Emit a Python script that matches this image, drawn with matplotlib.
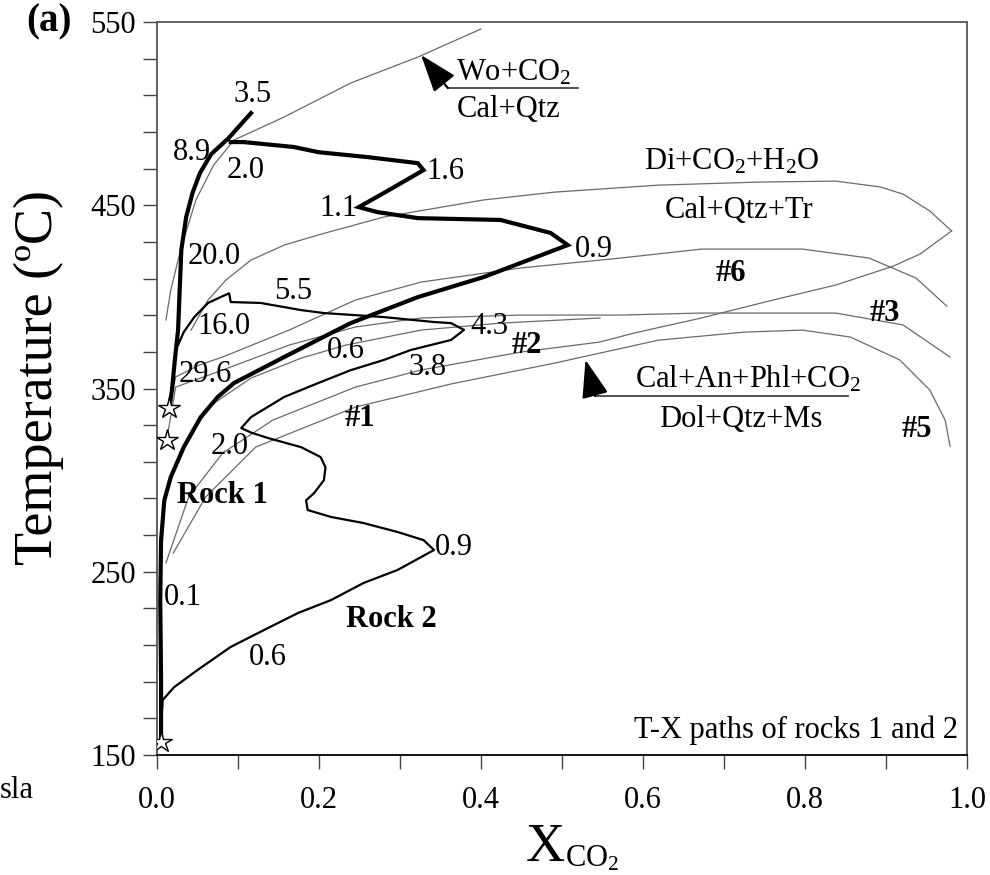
import numpy as np
import matplotlib
matplotlib.use("Agg")
import matplotlib.pyplot as plt
from matplotlib.ticker import FixedLocator

plt.rcParams["font.family"] = ["Liberation Serif", "DejaVu Serif"]
plt.rcParams["mathtext.fontset"] = "custom"
plt.rcParams["mathtext.rm"] = "Liberation Serif"
plt.rcParams["mathtext.it"] = "Liberation Serif:italic"
plt.rcParams["mathtext.bf"] = "Liberation Serif:bold"

# ---------- 1) T-X paths (x = X_CO2, t = temperature in C) ----------
# rock 1, branch from the upper start point up to the 3.5 end
rock1a_x = [0.015, 0.0185, 0.022, 0.026, 0.028, 0.030, 0.036, 0.044, 0.053, 0.067, 0.088, 0.116]
rock1a_t = [339.4, 349.2, 365.6, 381.9, 403.8, 425.6, 443.6, 457.0, 467.6, 478.0, 486.5, 500.3]

# rock 1, main loop from the bottom start point
rock1b_x = [0.005, 0.005, 0.004, 0.005, 0.009, 0.017, 0.033, 0.054, 0.075, 0.095, 0.157,
            0.239, 0.322, 0.403, 0.507, 0.486, 0.424, 0.322, 0.272, 0.249, 0.280, 0.329,
            0.322, 0.260, 0.199, 0.169, 0.107, 0.091]
rock1b_t = [157.0, 191.0, 234.6, 267.0, 289.0, 301.7, 318.0, 334.4, 345.4, 353.0, 367.2,
            385.7, 399.9, 410.8, 428.3, 434.9, 442.0, 443.0, 446.3, 449.0, 456.7, 469.2,
            473.0, 476.3, 479.0, 481.8, 484.5, 484.5]

# rock 2
rock2_x = [0.005, 0.007, 0.021, 0.050, 0.091, 0.132, 0.174, 0.215, 0.255, 0.297, 0.342,
           0.329, 0.297, 0.255, 0.215, 0.186, 0.184, 0.194, 0.206, 0.208, 0.202, 0.178,
           0.137, 0.116, 0.104, 0.116, 0.157, 0.199, 0.239, 0.280, 0.313, 0.363, 0.379,
           0.363, 0.342, 0.280, 0.206, 0.178, 0.128, 0.091, 0.089, 0.079, 0.063, 0.046,
           0.033, 0.026]
rock2_t = [166.4, 180.0, 187.0, 196.4, 209.0, 218.2, 227.5, 234.6, 243.9, 251.0, 261.9,
           267.3, 271.7, 276.6, 279.9, 283.7, 289.0, 293.0, 300.0, 307.0, 312.6, 318.0,
           323.0, 326.0, 328.4, 334.4, 345.4, 353.0, 360.0, 365.6, 371.0, 376.5, 382.0,
           385.7, 386.3, 389.0, 391.2, 392.8, 396.7, 397.2, 402.0, 400.0, 396.7, 389.0,
           380.8, 373.7]

star_x = [0.015, 0.012, 0.005]
star_t = [339.4, 321.9, 157.0]

# ---------- 2) Reaction curves ----------
wo_x = [0.011, 0.017, 0.030, 0.048, 0.070, 0.095, 0.157, 0.239, 0.322, 0.400]
wo_t = [387.4, 403.8, 427.2, 452.9, 472.0, 485.6, 498.2, 516.7, 530.9, 546.2]

di_x = [0.042, 0.063, 0.085, 0.116, 0.157, 0.199, 0.280, 0.403, 0.491, 0.619, 0.746,
        0.838, 0.893, 0.921, 0.954, 0.981]
di_t = [381.9, 398.3, 409.2, 420.1, 428.3, 433.8, 443.6, 452.9, 457.2, 461.0, 462.7,
        463.2, 460.0, 456.1, 446.9, 436.0]

c6_x = [0.017, 0.023, 0.052, 0.081, 0.163, 0.245, 0.326, 0.449, 0.572, 0.672, 0.797,
        0.879, 0.937, 0.975]
c6_t = [343.7, 356.3, 362.8, 367.2, 381.9, 398.3, 408.1, 415.8, 421.2, 426.1, 426.1,
        421.2, 410.3, 395.0]

c3_x = [0.012, 0.023, 0.081, 0.163, 0.245, 0.326, 0.449, 0.572, 0.672, 0.838, 0.921, 0.979]
c3_t = [321.9, 350.8, 360.1, 373.7, 383.6, 388.5, 390.1, 390.1, 391.2, 391.2, 384.7, 367.2]

c2_x = [0.011, 0.039, 0.081, 0.143, 0.245, 0.326, 0.449, 0.547, 0.589, 0.672, 0.755,
        0.838, 0.909, 0.942, 0.981]
c2_t = [254.8, 290.8, 314.8, 332.8, 350.8, 360.1, 369.9, 375.4, 380.3, 388.5, 397.7,
        406.5, 416.8, 423.4, 436.0]

c5_x = [0.020, 0.060, 0.122, 0.245, 0.363, 0.491, 0.619, 0.725, 0.797, 0.856, 0.917,
        0.954, 0.973, 0.979]
c5_t = [260.2, 290.8, 318.1, 339.9, 352.5, 363.9, 376.4, 380.8, 381.9, 378.1, 365.6,
        349.2, 332.8, 318.6]

c1_x = [0.036, 0.067, 0.116, 0.178, 0.233, 0.326, 0.424, 0.547]
c1_t = [321.9, 341.0, 355.7, 366.6, 373.7, 381.9, 385.7, 388.5]

# ---------- 3) Labels ----------
num_labels = [
    ("3.5", 0.118, 510.2), ("8.9", 0.043, 479.0), ("2.0", 0.110, 469.2),
    ("1.6", 0.356, 468.7), ("1.1", 0.224, 448.5), ("20.0", 0.070, 421.8),
    ("0.9", 0.539, 426.1), ("5.5", 0.168, 402.7), ("16.0", 0.083, 383.6),
    ("4.3", 0.410, 383.6), ("0.6", 0.233, 370.5), ("29.6", 0.059, 357.4),
    ("3.8", 0.334, 361.7), ("2.0", 0.090, 318.6), ("0.9", 0.367, 263.5),
    ("0.1", 0.032, 235.7), ("0.6", 0.137, 203.5),
]
bold_labels = [
    ("Rock 1", 0.081, 291.9), ("Rock 2", 0.289, 223.7), ("#1", 0.250, 333.9),
    ("#2", 0.457, 373.7), ("#6", 0.708, 413.0), ("#3", 0.899, 390.7),
    ("#5", 0.938, 327.4),
]
rxn_labels = [
    ("Wo+CO$_2$", 0.441, 518.3), ("Cal+Qtz", 0.434, 498.0),
    ("Di+CO$_2$+H$_2$O", 0.710, 469.8), ("Cal+Qtz+Tr", 0.718, 443.3),
    ("Cal+An+Phl+CO$_2$", 0.730, 350.8), ("Dol+Qtz+Ms", 0.721, 329.0),
]

thin_col = "#6a6a6a"
fs = 22

fig = plt.figure(figsize=(9.9, 8.75), dpi=100)
ax = fig.add_axes([0.1586, 0.1371, 0.8182, 0.8377])

for xs, ts in [(wo_x, wo_t), (di_x, di_t), (c6_x, c6_t), (c3_x, c3_t),
               (c2_x, c2_t), (c5_x, c5_t), (c1_x, c1_t)]:
    ax.plot(xs, ts, color=thin_col, lw=0.9, zorder=2)

ax.plot(rock2_x, rock2_t, color="black", lw=1.6, zorder=3)
ax.plot(rock1b_x, rock1b_t, color="black", lw=3.0, zorder=4, solid_joinstyle="miter")
ax.plot(rock1a_x, rock1a_t, color="black", lw=3.0, zorder=4)
ax.plot(star_x, star_t, ls="none", marker="*", ms=16, mfc="white", mec="black",
        mew=1.0, zorder=5)

# arrows + fraction bars of the reaction labels
for tip, corner, bar_end in [((0.326, 532.0), (0.359, 514.0), 0.520),
                             ((0.529, 365.6), (0.541, 345.9), 0.853)]:
    ax.annotate("", xy=tip, xytext=corner,
                arrowprops=dict(arrowstyle="-|>,head_length=0.9,head_width=0.32",
                                color="black", lw=1.6, mutation_scale=26,
                                shrinkA=0, shrinkB=0))
    ax.plot([corner[0], bar_end], [corner[1], corner[1]], color="#333333", lw=1.2)

for s, x, t in num_labels:
    ax.text(x, t, s, fontsize=fs, ha="center", va="center", zorder=6)
for s, x, t in bold_labels:
    ax.text(x, t, s, fontsize=fs, fontweight="bold", ha="center", va="center", zorder=6)
for s, x, t in rxn_labels:
    ax.text(x, t, s, fontsize=fs, ha="center", va="baseline", zorder=6)

ax.text(0.989, 163.6, "T-X paths of rocks 1 and 2", fontsize=fs, ha="right", va="center")

# ---------- 4) Axes ----------
ax.set_xlim(0, 1.0)
ax.set_ylim(150, 550)
ax.xaxis.set_major_locator(FixedLocator(np.arange(0, 1.01, 0.2)))
ax.xaxis.set_minor_locator(FixedLocator(np.arange(0, 1.01, 0.1)))
ax.yaxis.set_major_locator(FixedLocator([150, 250, 350, 450, 550]))
ax.yaxis.set_minor_locator(FixedLocator(np.arange(150, 551, 20)))
ax.set_xticklabels([f"{v:.1f}" for v in np.arange(0, 1.01, 0.2)])
ax.tick_params(which="both", direction="out", length=10, width=1.0, color="#444444",
               labelsize=fs, top=False, right=False)
ax.tick_params(axis="x", which="major", pad=12)
ax.tick_params(axis="y", which="major", pad=5)
for sp in ax.spines.values():
    sp.set_color("#555555")
    sp.set_linewidth(1.3)
ax.spines["bottom"].set_color("black")

ax.set_ylabel("Temperature (ºC)", fontsize=39)
ax.yaxis.set_label_coords(-0.115, 0.515)

# x label: big X with a smaller CO2 subscript
fig.text(0.571, 0.016, "X", fontsize=39, ha="right", va="baseline")
fig.text(0.571, 0.010, "CO$_2$", fontsize=22, ha="left", va="baseline")

fig.text(0.0495, 0.975, "(a)", fontsize=28, fontweight="bold", ha="center", va="center")
fig.text(0.0, 0.096, "sla", fontsize=22, ha="left", va="center")

fig.savefig("out.png", dpi=100)
